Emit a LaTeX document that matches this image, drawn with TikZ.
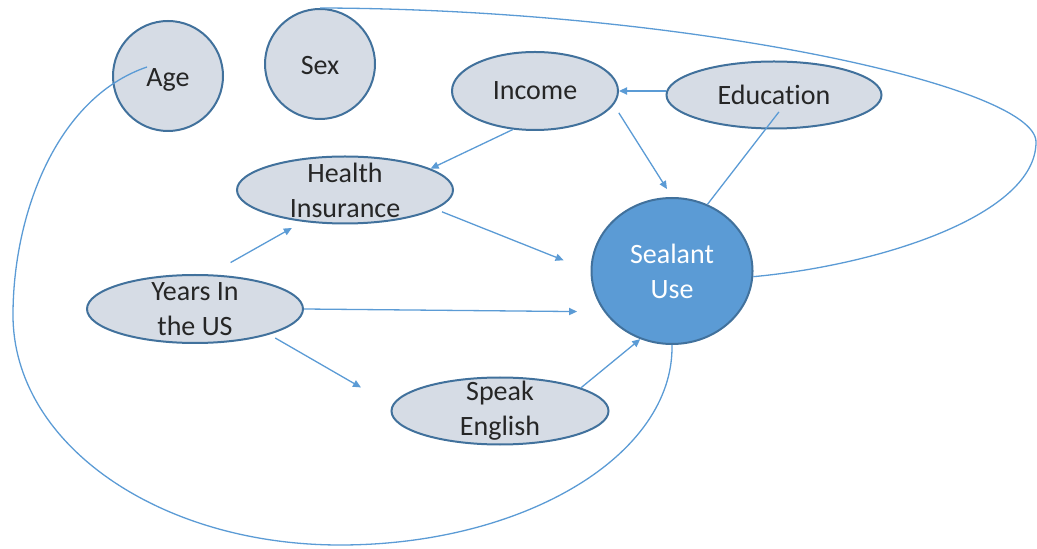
\documentclass[tikz,border=0pt]{standalone}
\usepackage{fontspec}
\setmainfont[Ligatures=NoCommon]{Carlito}
\usetikzlibrary{shapes.geometric,arrows.meta,calc}
\definecolor{nodefill}{RGB}{214,220,229}
\definecolor{nodeline}{RGB}{65,113,156}
\definecolor{link}{RGB}{91,155,213}
\definecolor{ink}{RGB}{38,38,38}

\begin{document}
\begin{tikzpicture}[x=0.5pt,y=-0.5pt,
  var/.style={draw=nodeline, line width=1pt, fill=nodefill, inner sep=0pt},
  ell/.style={var, ellipse},
  circ/.style={var, circle, minimum size=55pt},
  txt/.style={text=ink, font=\fontsize{14}{17.5}\selectfont, align=center, inner sep=0pt},
  conn/.style={draw=link, line width=0.65pt},
  arr/.style={conn, -{Triangle[length=4pt,width=3.6pt]}},
]
\useasboundingbox (0,0) rectangle (1037,549);

% variables
\node[circ, label={[txt,yshift=-2pt]center:Age}] (age) at (168,76) {};
\node[circ, label={[txt,yshift=-1pt]center:Sex}] (sex) at (320,64) {};
\node[ell, minimum width=83pt, minimum height=39pt,
      label={[txt]center:Income}] (inc) at (535,91) {};
\node[ell, minimum width=107.5pt, minimum height=33.5pt,
      label={[txt]center:Education}] (edu) at (774,95) {};
\node[ell, minimum width=108pt, minimum height=33.5pt,
      label={[txt]center:Health\\Insurance}] (hi) at (345,190) {};
\node[ell, minimum width=108pt, minimum height=34pt,
      label={[txt]center:Years In\\the US}] (yus) at (195,309) {};
\node[ell, minimum width=108.5pt, minimum height=33.5pt,
      label={[txt]center:Speak\\English}] (sp) at (500,411) {};
\node[ell, fill=link, minimum width=80.5pt, minimum height=73pt,
      label={[txt,text=white]center:Sealant\\Use}] (su) at (672,271) {};

% direct effects
\draw[arr] (edu.west |- inc.east) -- (inc.east);
\draw[arr] (inc.240) -- (hi.14);
\draw[arr, shorten <=4.7pt, shorten >=4.7pt] (inc.-10) -- (su.north);
\draw[conn, shorten >=10.7pt] (su.62) -- ([xshift=9pt]edu.center);
\draw[arr, shorten <=3.5pt, shorten >=14.5pt] (hi.-12) -- (su.west);
\draw[arr, shorten <=12pt, shorten >=6.3pt] (yus.67) -- (hi.217);
\draw[arr, shorten >=13.5pt] (yus.east) -- (su.211);
\draw[arr, shorten <=3.4pt, shorten >=17.9pt] (yus.-19) -- (sp.177);
\draw[arr] (sp.16) -- (su.245);

% long-range links
\draw[conn] ($(age.center)+(-21,-9)$) .. controls (56,98) and (13,215) .. (13,315)
  .. controls (13,444) and (159,545) .. (340,545)
  .. controls (524,545) and (674,455) .. (su.south);
\draw[conn] (sex.north) .. controls (680,9) and (1036,85) .. (1036,142)
  .. controls (1036,215) and (880,265) .. (su.-4);
\end{tikzpicture}
\end{document}
